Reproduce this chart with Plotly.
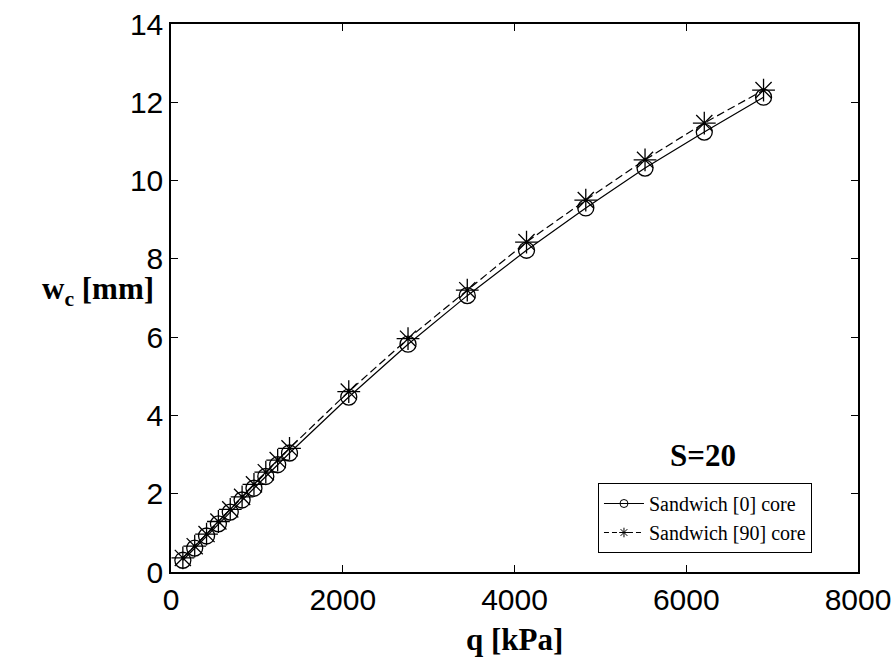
import plotly.graph_objects as go

# Central deflection of the sandwich plate versus uniform pressure (S=20)
q_kpa = [138, 276, 414, 552, 690, 828, 966, 1104, 1242, 1380,
         2070, 2760, 3450, 4140, 4830, 5520, 6210, 6900]
wc_core0 = [0.30, 0.61, 0.92, 1.23, 1.53, 1.84, 2.14, 2.44, 2.74, 3.04,
            4.47, 5.82, 7.06, 8.22, 9.30, 10.32, 11.24, 12.13]
wc_core90 = [0.36, 0.66, 0.97, 1.29, 1.60, 1.92, 2.24, 2.55, 2.86, 3.16,
             4.61, 5.96, 7.20, 8.43, 9.50, 10.53, 11.47, 12.31]

series_names = ["Sandwich [0] core", "Sandwich [90] core"]
x_ticks = [0, 2000, 4000, 6000, 8000]
y_ticks = [0, 2, 4, 6, 8, 10, 12, 14]

serif = "'Liberation Serif', 'Times New Roman', Times, 'DejaVu Serif', serif"
sans = "'Liberation Sans', Arial, Helvetica, sans-serif"

fig = go.Figure()

fig.add_trace(go.Scatter(
    x=q_kpa, y=wc_core0, mode="lines+markers", showlegend=False,
    line=dict(color="black", width=1.2, dash="solid"),
    marker=dict(symbol="circle-open", size=16, color="black",
                line=dict(color="black", width=1.3)),
))
fig.add_trace(go.Scatter(
    x=q_kpa, y=wc_core90, mode="lines+markers", showlegend=False,
    line=dict(color="black", width=1.2, dash="8px,4px"),
    marker=dict(symbol="asterisk-open", size=19, color="black",
                line=dict(color="black", width=1.3)),
))

# Legend entries with small markers
fig.add_trace(go.Scatter(
    x=[None], y=[None], mode="lines+markers", name=series_names[0],
    line=dict(color="black", width=1),
    marker=dict(symbol="circle-open", size=8, color="black",
                line=dict(color="black", width=1)),
))
fig.add_trace(go.Scatter(
    x=[None], y=[None], mode="lines+markers", name=series_names[1],
    line=dict(color="black", width=1, dash="5px,3px"),
    marker=dict(symbol="asterisk-open", size=8, color="black",
                line=dict(color="black", width=1)),
))

axis_common = dict(
    showgrid=False, zeroline=False, showline=True, linecolor="black",
    linewidth=1.5, mirror="ticks", ticks="inside", ticklen=7,
    tickcolor="black", tickwidth=1.2, automargin=False,
    tickfont=dict(family=sans, size=30, color="black"),
)

fig.update_xaxes(range=[0, 8000], tickvals=x_ticks, **axis_common)
fig.update_yaxes(range=[0, 14], tickvals=y_ticks, **axis_common)

fig.update_layout(
    width=895, height=662,
    margin=dict(l=171, r=37, t=24, b=90, autoexpand=False),
    paper_bgcolor="white", plot_bgcolor="white",
    showlegend=True,
    legend=dict(
        x=0.6215, y=0.1624, xanchor="left", yanchor="top",
        bgcolor="white", bordercolor="black", borderwidth=1,
        font=dict(family=serif, size=20, color="black"),
        tracegroupgap=0, itemwidth=40,
    ),
    annotations=[
        dict(text="<b>q [kPa]</b>", xref="paper", yref="paper",
             x=0.5, y=-0.124, xanchor="center", yanchor="middle",
             showarrow=False, font=dict(family=serif, size=31, color="black")),
        dict(text="<b>w<sub>c</sub> [mm]</b>", xref="paper", yref="paper",
             x=-0.106, y=0.513, xanchor="center", yanchor="middle",
             showarrow=False, font=dict(family=serif, size=31, color="black")),
        dict(text="<b>S=20</b>", xref="paper", yref="paper",
             x=0.774, y=0.212, xanchor="center", yanchor="middle",
             showarrow=False, font=dict(family=serif, size=31, color="black")),
    ],
)

fig.write_html("out.html")
